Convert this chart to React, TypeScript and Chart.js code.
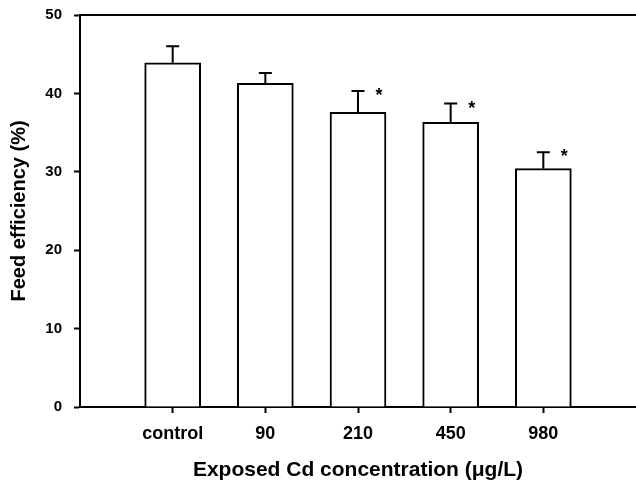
import React, { useEffect, useRef } from "react";
import { Chart, registerables } from "chart.js";

Chart.register(...registerables);

const categories = ["control", "90", "210", "450", "980"];
const feedEfficiency = [43.9, 41.3, 37.6, 36.3, 30.4];
const errorUp = [2.1, 1.3, 2.7, 2.4, 2.1];
const significant = [false, false, true, true, true];
const yTicks = [0, 10, 20, 30, 40, 50];
const xTitle = "Exposed Cd concentration (\u03BCg/L)";
const yTitle = "Feed efficiency (%)";

const FONT = "'Liberation Sans', Arial, sans-serif";

export default function App() {
  const ref = useRef<HTMLCanvasElement | null>(null);

  useEffect(() => {
    document.body.style.margin = "0";
    const canvas = ref.current;
    if (!canvas) return;

    const labels = ["", ...categories, ""];
    const data = [null, ...feedEfficiency, null];

    const extras = {
      id: "extras",
      afterDatasetsDraw(chart: any) {
        const ctx = chart.ctx;
        const xs = chart.scales.x;
        const ys = chart.scales.y;
        const area = chart.chartArea;
        ctx.save();
        ctx.strokeStyle = "#000";
        ctx.fillStyle = "#000";
        ctx.lineWidth = 2;
        // top frame line
        ctx.beginPath();
        ctx.moveTo(area.left, area.top);
        ctx.lineTo(chart.width, area.top);
        ctx.stroke();
        categories.forEach((c, i) => {
          const x = xs.getPixelForValue(i + 1);
          const yTop = ys.getPixelForValue(feedEfficiency[i]);
          const yErr = ys.getPixelForValue(feedEfficiency[i] + errorUp[i]);
          ctx.beginPath();
          ctx.moveTo(x, yTop);
          ctx.lineTo(x, yErr);
          ctx.moveTo(x - 6.5, yErr);
          ctx.lineTo(x + 6.5, yErr);
          ctx.stroke();
          if (significant[i]) {
            ctx.font = `bold 18px ${FONT}`;
            ctx.textAlign = "center";
            ctx.textBaseline = "alphabetic";
            ctx.fillText("*", x + 21, yErr + 10);
          }
        });
        ctx.restore();
      },
    };

    const chart = new Chart(canvas, {
      type: "bar",
      data: {
        labels,
        datasets: [
          {
            data,
            backgroundColor: "#ffffff",
            borderColor: "#000000",
            borderWidth: 2,
            borderSkipped: "bottom",
            barThickness: 56,
          },
        ],
      },
      plugins: [extras],
      options: {
        animation: false,
        responsive: false,
        maintainAspectRatio: false,
        layout: { padding: { top: 15, right: -2, left: 0, bottom: 0 } },
        plugins: {
          legend: { display: false },
          tooltip: { enabled: false },
        },
        scales: {
          x: {
            type: "category",
            offset: false,
            border: { display: true, color: "#000", width: 2 },
            grid: {
              display: true,
              offset: false,
              drawOnChartArea: false,
              drawTicks: true,
              tickLength: 6,
              tickWidth: 2,
              tickColor: (c: any) => (c.tick && c.tick.label ? "#000" : "rgba(0,0,0,0)"),
            },
            ticks: {
              color: "#000",
              padding: 10,
              maxRotation: 0,
              autoSkip: false,
              font: { family: FONT, size: 18, weight: "bold" },
            },
            title: {
              display: true,
              text: xTitle,
              color: "#000",
              font: { family: FONT, size: 21, weight: "bold" },
              padding: { top: 0, bottom: 4 },
            },
            afterFit(scale: any) {
              scale.height = 80;
              scale.paddingLeft = 0;
              scale.paddingRight = 0;
            },
          },
          y: {
            min: 0,
            max: 50,
            border: { display: true, color: "#000", width: 2 },
            grid: {
              display: true,
              drawOnChartArea: false,
              drawTicks: true,
              tickLength: 6,
              tickWidth: 2,
              tickColor: "#000",
            },
            afterBuildTicks(scale: any) {
              scale.ticks = yTicks.map((v) => ({ value: v }));
            },
            ticks: {
              color: "#000",
              padding: 12,
              font: { family: FONT, size: 15, weight: "bold" },
            },
            title: {
              display: true,
              text: yTitle,
              color: "#000",
              font: { family: FONT, size: 20, weight: "bold" },
              padding: { top: 7, bottom: 0 },
            },
            afterFit(scale: any) {
              scale.width = 80;
              scale.paddingTop = 0;
              scale.paddingBottom = 0;
            },
          },
        },
      } as any,
    });

    return () => chart.destroy();
  }, []);

  return (
    <div style={{ position: "absolute", left: 0, top: 0, width: 636, height: 487, background: "#fff" }}>
      <canvas ref={ref} width={636} height={487} style={{ display: "block" }} />
    </div>
  );
}
